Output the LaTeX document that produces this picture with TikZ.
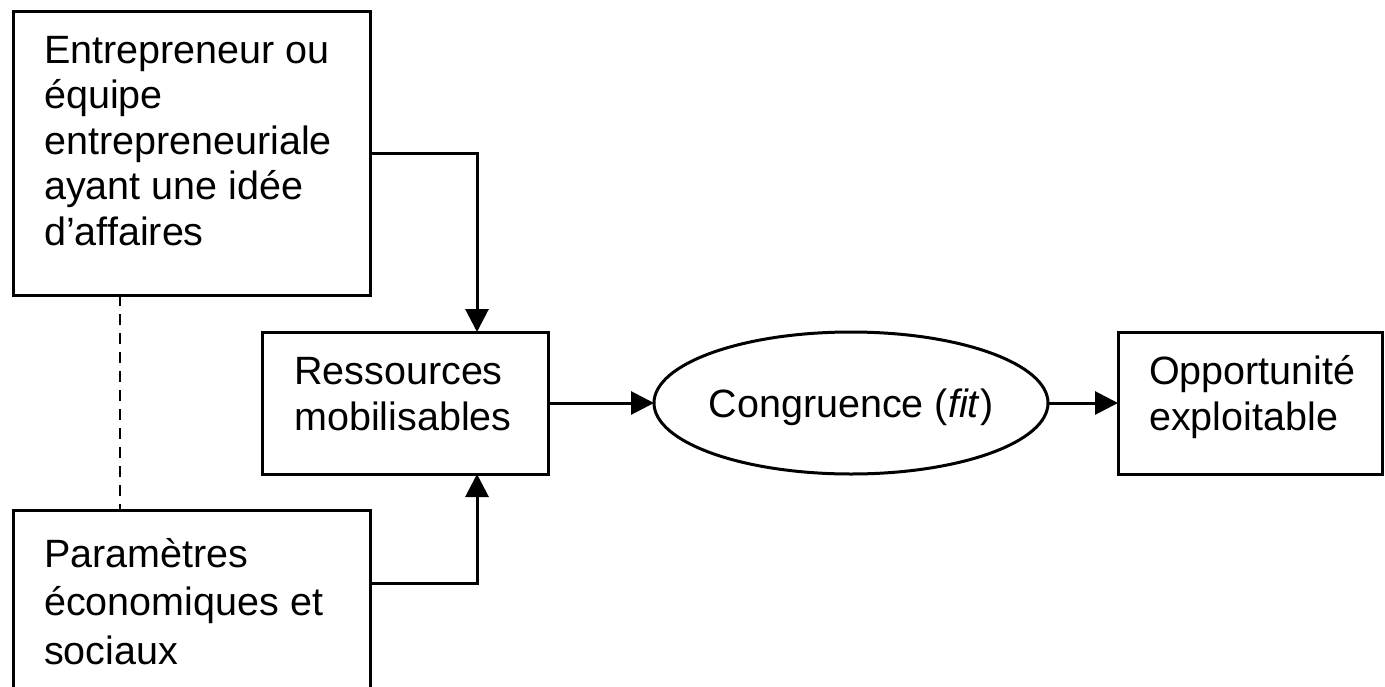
\documentclass[tikz,border=0pt]{standalone}
\usepackage{fontspec}
\setmainfont{Liberation Sans}
\usetikzlibrary{shapes.geometric,arrows.meta}
\begin{document}
\begin{tikzpicture}[x=1pt,y=-1pt,
  box/.style={draw, line width=3pt, anchor=north west, inner sep=0pt, outer sep=0pt},
  lbl/.style={anchor=base west, inner sep=0pt, align=left,
    font=\fontsize{39.5}{45.5}\selectfont},
  arr/.style={line width=3pt, -{Triangle[length=23pt,width=23pt]}},
  dashline/.style={line width=2pt, dash pattern=on 11pt off 8pt}]
\useasboundingbox (0,0) rectangle (1385,686);
\clip (0,0) rectangle (1385,686);
% coordinates for connector routing
\coordinate (xa) at (477,0);
\coordinate (xd) at (120,0);
\coordinate (ya) at (0,583);
% boxes
\node[box, minimum width=357pt, minimum height=284pt] (ent) at (13,11) {};
\node[box, minimum width=357pt, minimum height=220pt] (par) at (13,510) {};
\node[box, minimum width=286pt, minimum height=142pt] (res) at (262,332) {};
\node[box, minimum width=264pt, minimum height=142pt] (opp) at (1118,332) {};
\node[draw, ellipse, line width=3pt, inner sep=0pt, outer sep=0pt,
      minimum width=394pt, minimum height=142pt] (fit) at (851,403) {};
% texts (anchor = baseline of the last line)
\node[lbl] (enttext) at (44,245) {Entrepreneur ou\\équipe\\entrepreneuriale\\ayant une idée\\d’affaires};
\node[lbl, font=\fontsize{39.5}{48.5}\selectfont] (partext) at (44,664) {Paramètres\\économiques et\\sociaux};
\node[lbl] (restext) at (294,430) {Ressources\\mobilisables};
\node[lbl] (opptext) at (1149,430) {Opportunité\\exploitable};
\node[lbl, anchor=base] (fittext) at (851,417) {Congruence (\textit{fit})};
% connectors
\draw[arr] (ent.east) -| (res.north -| xa);
\draw[arr] (par.east |- ya) -| (res.south -| xa);
\draw[arr] (res.east) -- (fit.west);
\draw[arr] (fit.east) -- (opp.west);
\draw[dashline] (ent.south -| xd) -- (par.north -| xd);
\end{tikzpicture}
\end{document}
